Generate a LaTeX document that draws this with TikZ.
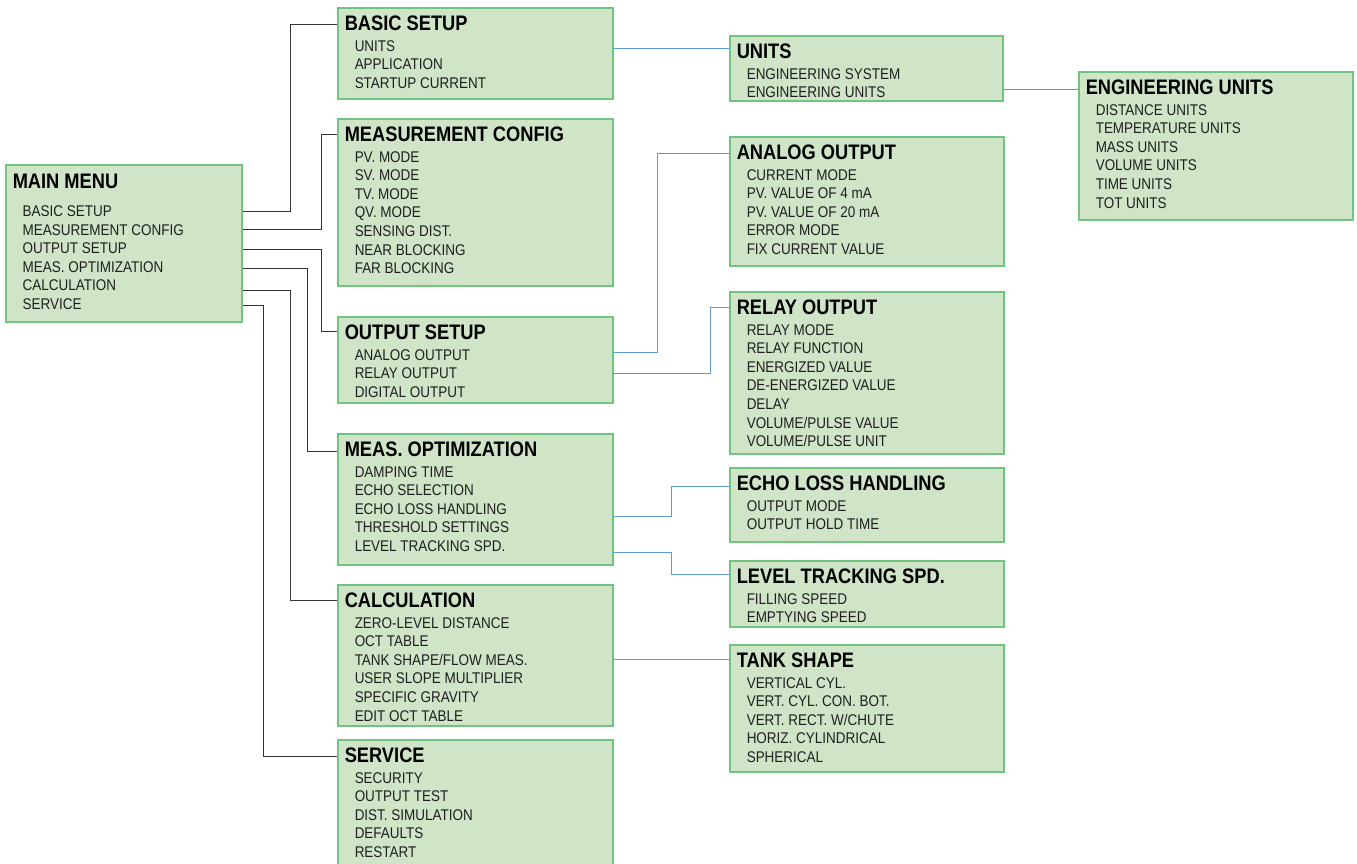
\documentclass[tikz,border=0pt]{standalone}
\usepackage{fontspec}
\setmainfont{Liberation Sans}[FakeStretch=0.87]
\definecolor{boxfill}{RGB}{208,229,199}
\definecolor{boxline}{RGB}{112,196,128}
\definecolor{linkblue}{RGB}{91,155,213}
\newcommand{\ttlfont}{\fontsize{21}{23}\selectfont\bfseries}
\newcommand{\itmfont}{\fontsize{15.5}{18.6}\selectfont\color{black!88}}
\newcommand{\menu}[5][0pt]{\parbox[t][#3][t]{#2}{\vspace*{\dimexpr8pt+#1/4\relax}\hspace*{7pt}{\ttlfont #4}\par
  \vspace{\dimexpr2pt+#1\relax}\itmfont\leftskip=17pt #5\par}}

\begin{document}
\begin{tikzpicture}[x=1pt,y=-1pt,
  menu/.style={draw=boxline,fill=boxfill,line width=1.5pt,inner sep=0pt,anchor=north west},
  tree/.style={black!80,line width=1pt},
  link/.style={linkblue,line width=1pt}]
  \useasboundingbox (0,0) rectangle (1357,863);

  \node[menu] (main) at (5,164) {\menu[7pt]{236pt}{157pt}{MAIN MENU}
    {BASIC SETUP\\MEASUREMENT CONFIG\\OUTPUT SETUP\\MEAS. OPTIMIZATION\\CALCULATION\\SERVICE}};

  \node[menu] (basic) at (337,7) {\menu{275pt}{91pt}{BASIC SETUP}
    {UNITS\\APPLICATION\\STARTUP CURRENT}};
  \node[menu] (config) at (337,118) {\menu{275pt}{167pt}{MEASUREMENT CONFIG}
    {PV. MODE\\SV. MODE\\TV. MODE\\QV. MODE\\SENSING DIST.\\NEAR BLOCKING\\FAR BLOCKING}};
  \node[menu] (output) at (337,316) {\menu{275pt}{86pt}{OUTPUT SETUP}
    {ANALOG OUTPUT\\RELAY OUTPUT\\DIGITAL OUTPUT}};
  \node[menu] (optim) at (337,433) {\menu{275pt}{131pt}{MEAS. OPTIMIZATION}
    {DAMPING TIME\\ECHO SELECTION\\ECHO LOSS HANDLING\\THRESHOLD SETTINGS\\LEVEL TRACKING SPD.}};
  \node[menu] (calc) at (337,584) {\menu{275pt}{141pt}{CALCULATION}
    {ZERO-LEVEL DISTANCE\\OCT TABLE\\TANK SHAPE/FLOW MEAS.\\USER SLOPE MULTIPLIER\\SPECIFIC GRAVITY\\EDIT OCT TABLE}};
  \node[menu] (service) at (337,739) {\menu{275pt}{135pt}{SERVICE}
    {SECURITY\\OUTPUT TEST\\DIST. SIMULATION\\DEFAULTS\\RESTART}};

  \node[menu] (units) at (729,35) {\menu{273pt}{65pt}{UNITS}
    {ENGINEERING SYSTEM\\ENGINEERING UNITS}};
  \node[menu] (engunits) at (1078,71) {\menu{274pt}{148pt}{ENGINEERING UNITS}
    {DISTANCE UNITS\\TEMPERATURE UNITS\\MASS UNITS\\VOLUME UNITS\\TIME UNITS\\TOT UNITS}};
  \node[menu] (analog) at (729,136) {\menu{274pt}{129pt}{ANALOG OUTPUT}
    {CURRENT MODE\\PV. VALUE OF 4 mA\\PV. VALUE OF 20 mA\\ERROR MODE\\FIX CURRENT VALUE}};
  \node[menu] (relay) at (729,291) {\menu{274pt}{162pt}{RELAY OUTPUT}
    {RELAY MODE\\RELAY FUNCTION\\ENERGIZED VALUE\\DE-ENERGIZED VALUE\\DELAY\\VOLUME/PULSE VALUE\\VOLUME/PULSE UNIT}};
  \node[menu] (echo) at (729,467) {\menu{274pt}{74pt}{ECHO LOSS HANDLING}
    {OUTPUT MODE\\OUTPUT HOLD TIME}};
  \node[menu] (level) at (729,560) {\menu{274pt}{66pt}{LEVEL TRACKING SPD.}
    {FILLING SPEED\\EMPTYING SPEED}};
  \node[menu] (tank) at (729,644) {\menu{274pt}{127pt}{TANK SHAPE}
    {VERTICAL CYL.\\VERT. CYL. CON. BOT.\\VERT. RECT. W/CHUTE\\HORIZ. CYLINDRICAL\\SPHERICAL}};

  \draw[tree] ([yshift=-47pt]main.north east) -- ++(48,0) |- ([yshift=-17pt]basic.north west);
  \draw[tree] ([yshift=-65pt]main.north east) -- ++(79,0) |- ([yshift=-16pt]config.north west);
  \draw[tree] ([yshift=-85pt]main.north east) -- ++(79,0) |- ([yshift=-15pt]output.north west);
  \draw[tree] ([yshift=-104pt]main.north east) -- ++(65,0) |- ([yshift=-18pt]optim.north west);
  \draw[tree] ([yshift=-126pt]main.north east) -- ++(48,0) |- ([yshift=-16pt]calc.north west);
  \draw[tree] ([yshift=-141pt]main.north east) -- ++(21,0) |- ([yshift=-17pt]service.north west);

  \draw[link] ([yshift=-41pt]basic.north east) -- ([yshift=-13pt]units.north west);
  \draw[link] ([yshift=-54pt]units.north east) -- ([yshift=-18pt]engunits.north west);
  \draw[link] ([yshift=-36pt]output.north east) -- ++(44,0) |- ([yshift=-17pt]analog.north west);
  \draw[link] ([yshift=-57pt]output.north east) -- ++(97,0) |- ([yshift=-16pt]relay.north west);
  \draw[link] ([yshift=-83pt]optim.north east) -- ++(58,0) |- ([yshift=-19pt]echo.north west);
  \draw[link] ([yshift=-119pt]optim.north east) -- ++(58,0) |- ([yshift=-14pt]level.north west);
  \draw[link] ([yshift=-75pt]calc.north east) -- ([yshift=-15pt]tank.north west);
\end{tikzpicture}
\end{document}
